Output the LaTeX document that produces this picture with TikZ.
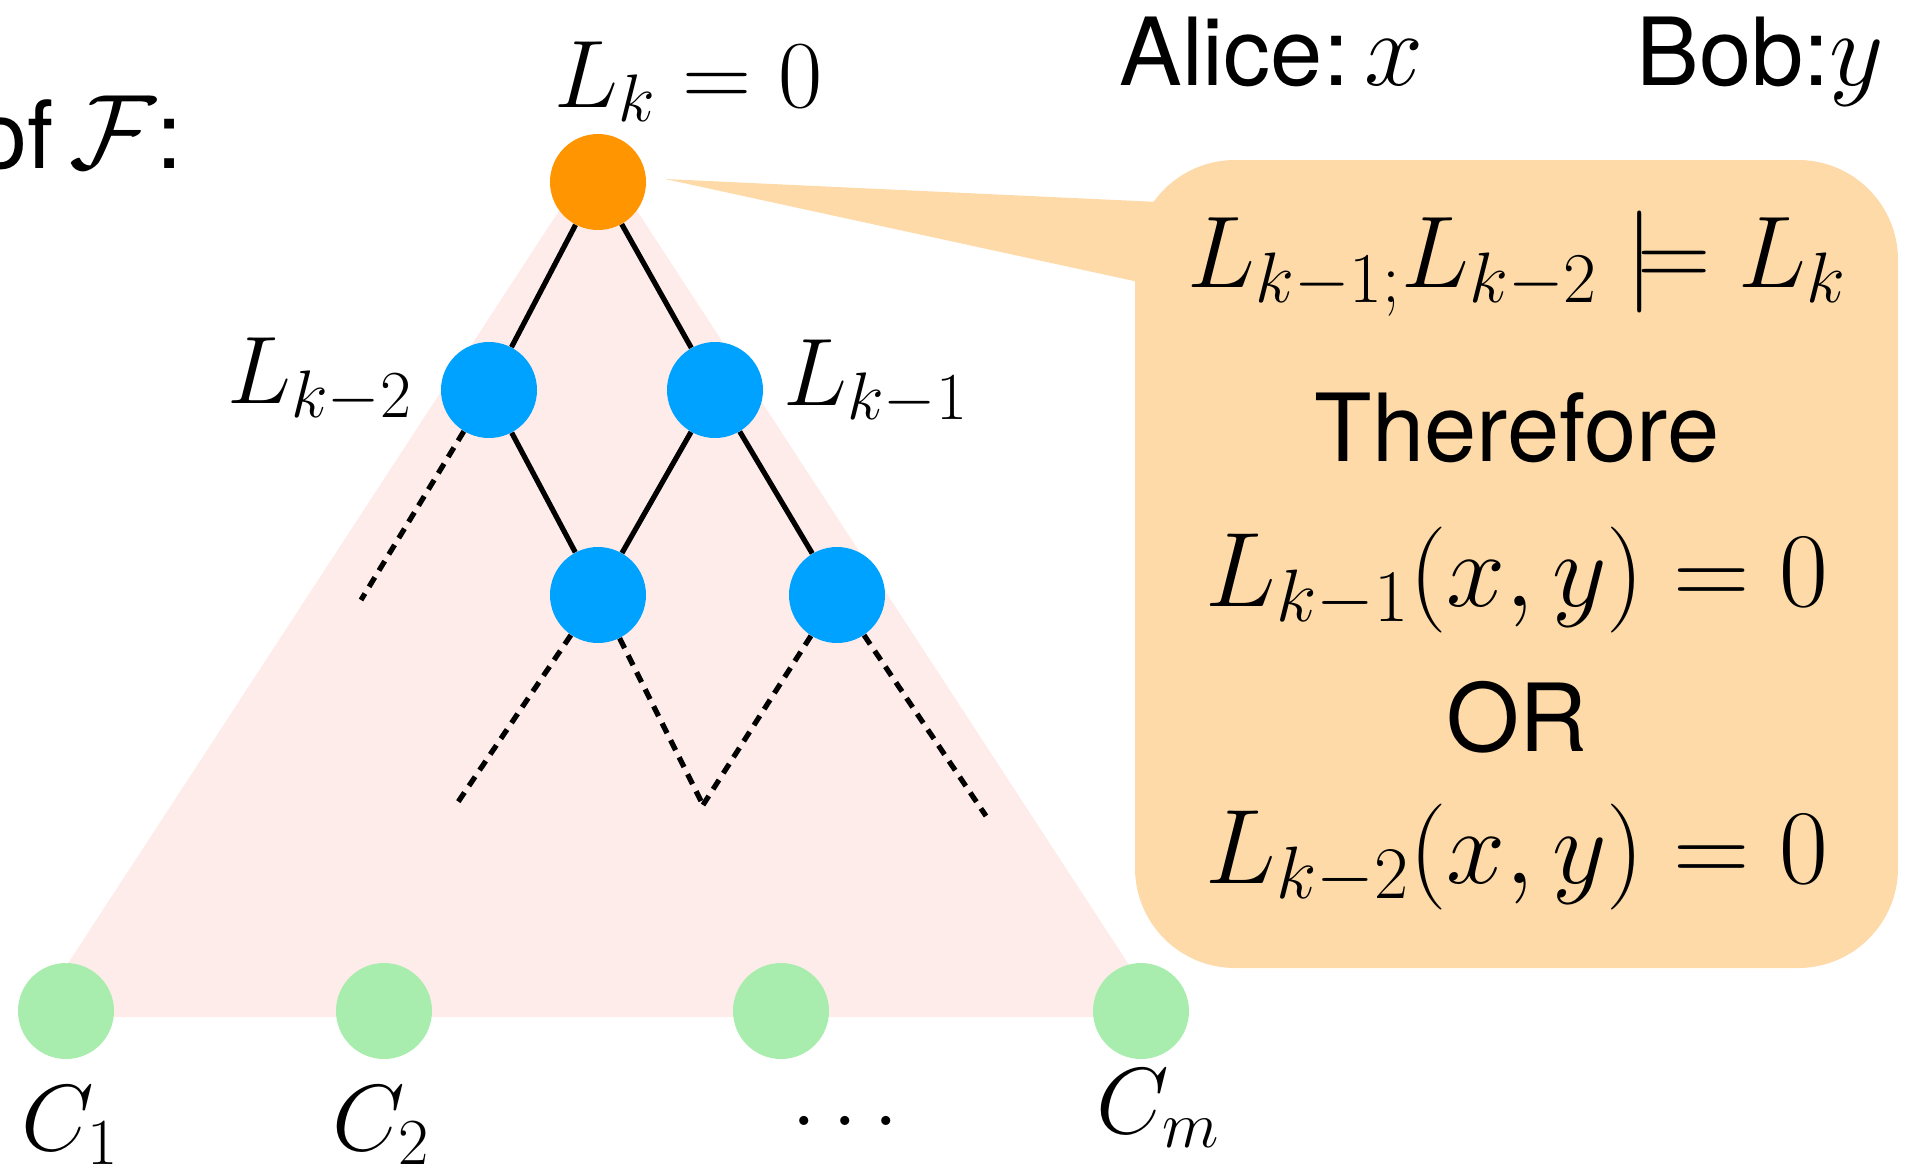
\RequirePackage{fix-cm}
\documentclass[tikz,border=0pt]{standalone}
\usepackage{amssymb}
\usepackage{fontspec}
\setmainfont{TeX Gyre Heros}
\definecolor{orangenode}{RGB}{255,149,0}
\definecolor{bluenode}{RGB}{0,162,255}
\definecolor{greennode}{RGB}{168,237,173}
\definecolor{pinktri}{RGB}{253,236,234}
\definecolor{calloutfill}{RGB}{253,218,168}
\newcommand{\largemathvar}[1]{{\fontsize{53}{60}\selectfont$#1$}}
\begin{document}
\begin{tikzpicture}[x=0.5pt,y=-0.5pt,
  txt/.style={inner sep=0pt, font=\fontsize{47}{56}\selectfont},
  mth/.style={inner sep=0pt, font=\fontsize{48}{56}\selectfont},
  cmth/.style={inner sep=0pt, font=\fontsize{47}{56}\selectfont},
  boxm/.style={inner sep=0pt, font=\fontsize{53}{60}\selectfont},
  boxmone/.style={inner sep=0pt, font=\fontsize{51}{60}\selectfont},
  dot/.style={circle, inner sep=0pt, minimum size=48pt},
  edge/.style={line width=2.6pt},
  dashline/.style={line width=2.6pt, dash pattern=on 5.5pt off 4pt},
]
\useasboundingbox (0,0) rectangle (1913,1168);
% shaded sub-proof triangle
\fill[pinktri] (598,151) -- (33,1017) -- (1163,1017) -- cycle;
% callout
\fill[calloutfill] (665,179) -- (1180,203) -- (1180,291) -- cycle;
\fill[calloutfill, rounded corners=50pt] (1135,160) rectangle (1898,968);
% nodes
\node[dot, fill=orangenode] (o) at (598,182) {};
\node[dot, fill=bluenode] (b1) at (489,390) {};
\node[dot, fill=bluenode] (b2) at (715,390) {};
\node[dot, fill=bluenode] (b3) at (598,595) {};
\node[dot, fill=bluenode] (b4) at (837,595) {};
\node[dot, fill=greennode] (g1) at (66,1011) {};
\node[dot, fill=greennode] (g2) at (384,1011) {};
\node[dot, fill=greennode] (g3) at (781,1011) {};
\node[dot, fill=greennode] (g4) at (1141,1011) {};
% dangling ends
\coordinate (d1) at (361,600);
\coordinate (d2) at (456,805);
\coordinate (d3) at (703,805);
\coordinate (d4) at (986,816);
% edges
\draw[edge] (o) -- (b1);
\draw[edge] (o) -- (b2);
\draw[edge] (b1) -- (b3);
\draw[edge] (b2) -- (b3);
\draw[edge] (b2) -- (b4);
\draw[dashline] (b1) -- (d1);
\draw[dashline] (b3) -- (d2);
\draw[dashline] (b3) -- (d3);
\draw[dashline] (b4) -- (d3);
\draw[dashline] (b4) -- (d4);
% labels
\node[txt, anchor=base west] (of) at (-25,168) {of\,\largemathvar{\mathcal{F}}:};
\node[txt, anchor=base west] (alice) at (1119,85) {Alice:\,\largemathvar{x}};
\node[txt, anchor=base west] (bob) at (1636,85) {Bob:\largemathvar{y}};
\node[mth, anchor=base west] (lk) at (554,107) {$L_k=0$};
\node[mth, anchor=base west] (lk2) at (227,403) {$L_{k-2}$};
\node[mth, anchor=base west] (lk1) at (783,405) {$L_{k-1}$};
\node[cmth, anchor=base west] (c1) at (21,1150) {$C_1$};
\node[cmth, anchor=base west] (c2) at (332,1150) {$C_2$};
\node[cmth, anchor=base west] (cd) at (791,1125) {$\ldots$};
\node[cmth, anchor=base west] (cm) at (1096,1133) {$C_m$};
% callout text
\node[boxmone, anchor=base] (t1) at (1517,287) {$L_{k-1;}L_{k-2}\models L_k$};
\node[txt, anchor=base] (t2) at (1517,461) {Therefore};
\node[boxm, anchor=base] (t3) at (1517,606) {$L_{k-1}(x,y)=0$};
\node[txt, anchor=base] (t4) at (1517,751) {OR};
\node[boxm, anchor=base] (t5) at (1517,883) {$L_{k-2}(x,y)=0$};
\end{tikzpicture}
\end{document}
